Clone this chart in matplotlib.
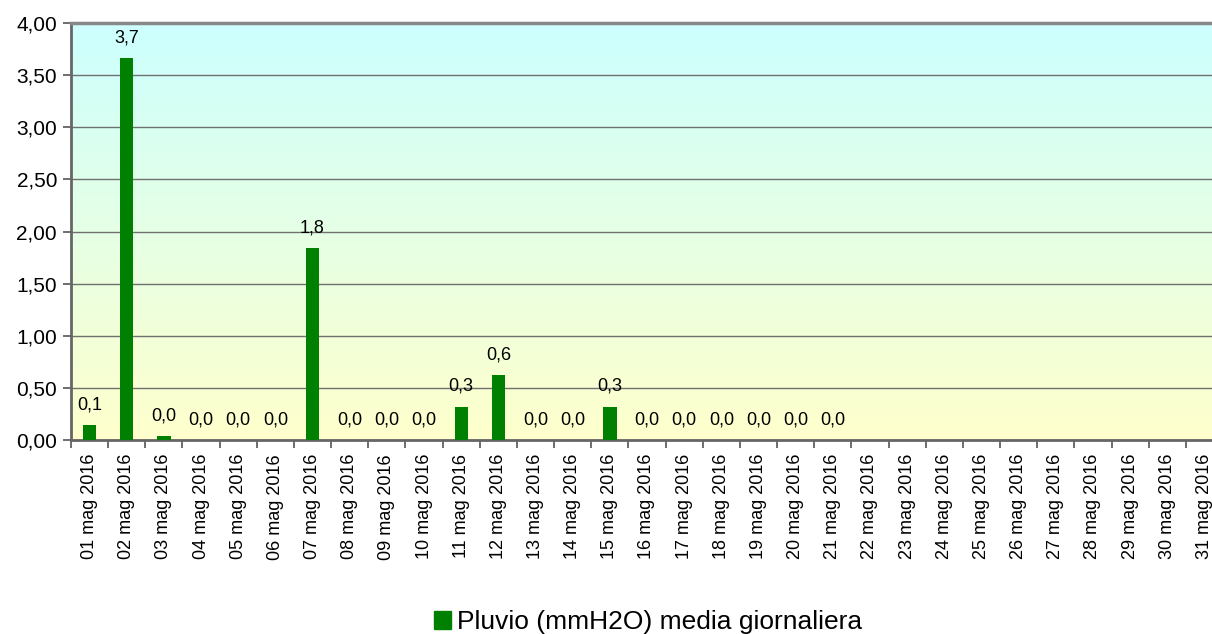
import numpy as np
import matplotlib.pyplot as plt
from matplotlib.patches import Patch
from matplotlib.colors import LinearSegmentedColormap

plt.rcParams['font.family'] = ['Liberation Sans', 'DejaVu Sans']

# Daily mean rainfall, May 2016 (NaN = no data)
days = ["%02d mag 2016" % d for d in range(1, 32)]
values = [0.14, 3.66, 0.04, 0.0, 0.0, 0.0, 1.84, 0.0, 0.0, 0.0,
          0.32, 0.62, 0.0, 0.0, 0.32, 0.0, 0.0, 0.0, 0.0, 0.0, 0.0] + [np.nan] * 10
y_ticks = np.arange(0, 4.01, 0.5)
series_name = "Pluvio (mmH2O) media giornaliera"

fig = plt.figure(figsize=(12.12, 6.34), dpi=100)
ax = fig.add_axes([71 / 1212, 1 - 440 / 634, 1152 / 1212, 417 / 634])

# background gradient: light yellow bottom -> light cyan top
cmap = LinearSegmentedColormap.from_list("bg", ["#ffffcc", "#ccffff"])
grad = np.linspace(0, 1, 256).reshape(-1, 1)
ax.imshow(grad, cmap=cmap, aspect="auto", extent=[0, 1, 0, 1],
          transform=ax.transAxes, origin="lower", zorder=0)

x = np.arange(len(days))
vals = np.array(values, dtype=float)
ax.bar(x, np.nan_to_num(vals), width=0.36, color="#008000", zorder=3)

for xi, v in zip(x, vals):
    if not np.isnan(v):
        ax.annotate(("%.1f" % v).replace(".", ","), (xi, v), xytext=(0, 8.5),
                    textcoords="offset points", ha="center", va="bottom",
                    fontsize=13, zorder=4)

ax.set_xlim(-0.5, len(days) - 0.5)
ax.set_ylim(0, 4)
ax.set_yticks(y_ticks)
ax.set_yticklabels([("%.2f" % t).replace(".", ",") for t in y_ticks], fontsize=15)
ax.yaxis.grid(True, color="#707070", linewidth=1.0, zorder=1)
ax.set_axisbelow(True)

ax.set_xticks(np.arange(-0.5, len(days), 1))
ax.set_xticklabels([])
ax.set_xticks(x, minor=True)
ax.set_xticklabels(days, minor=True, rotation=90, fontsize=13)
ax.tick_params(axis="x", which="major", length=6, width=1.2, color="#555555", direction="out")
ax.tick_params(axis="x", which="minor", length=0, pad=10)
ax.tick_params(axis="y", length=6, width=1.2, color="#555555", pad=4)

ax.spines["left"].set_color("#666666")
ax.spines["left"].set_linewidth(2)
ax.spines["bottom"].set_color("#666666")
ax.spines["bottom"].set_linewidth(2)
ax.spines["top"].set_color("#888888")
ax.spines["top"].set_linewidth(2.5)
ax.spines["right"].set_visible(False)

fig.legend(handles=[Patch(color="#008000", label=series_name)], loc="center",
           bbox_to_anchor=(648 / 1212, 1 - 622 / 634), frameon=False,
           fontsize=19, handlelength=0.65, handleheight=0.65, handletextpad=0.2)

fig.savefig("out.png", dpi=100)
